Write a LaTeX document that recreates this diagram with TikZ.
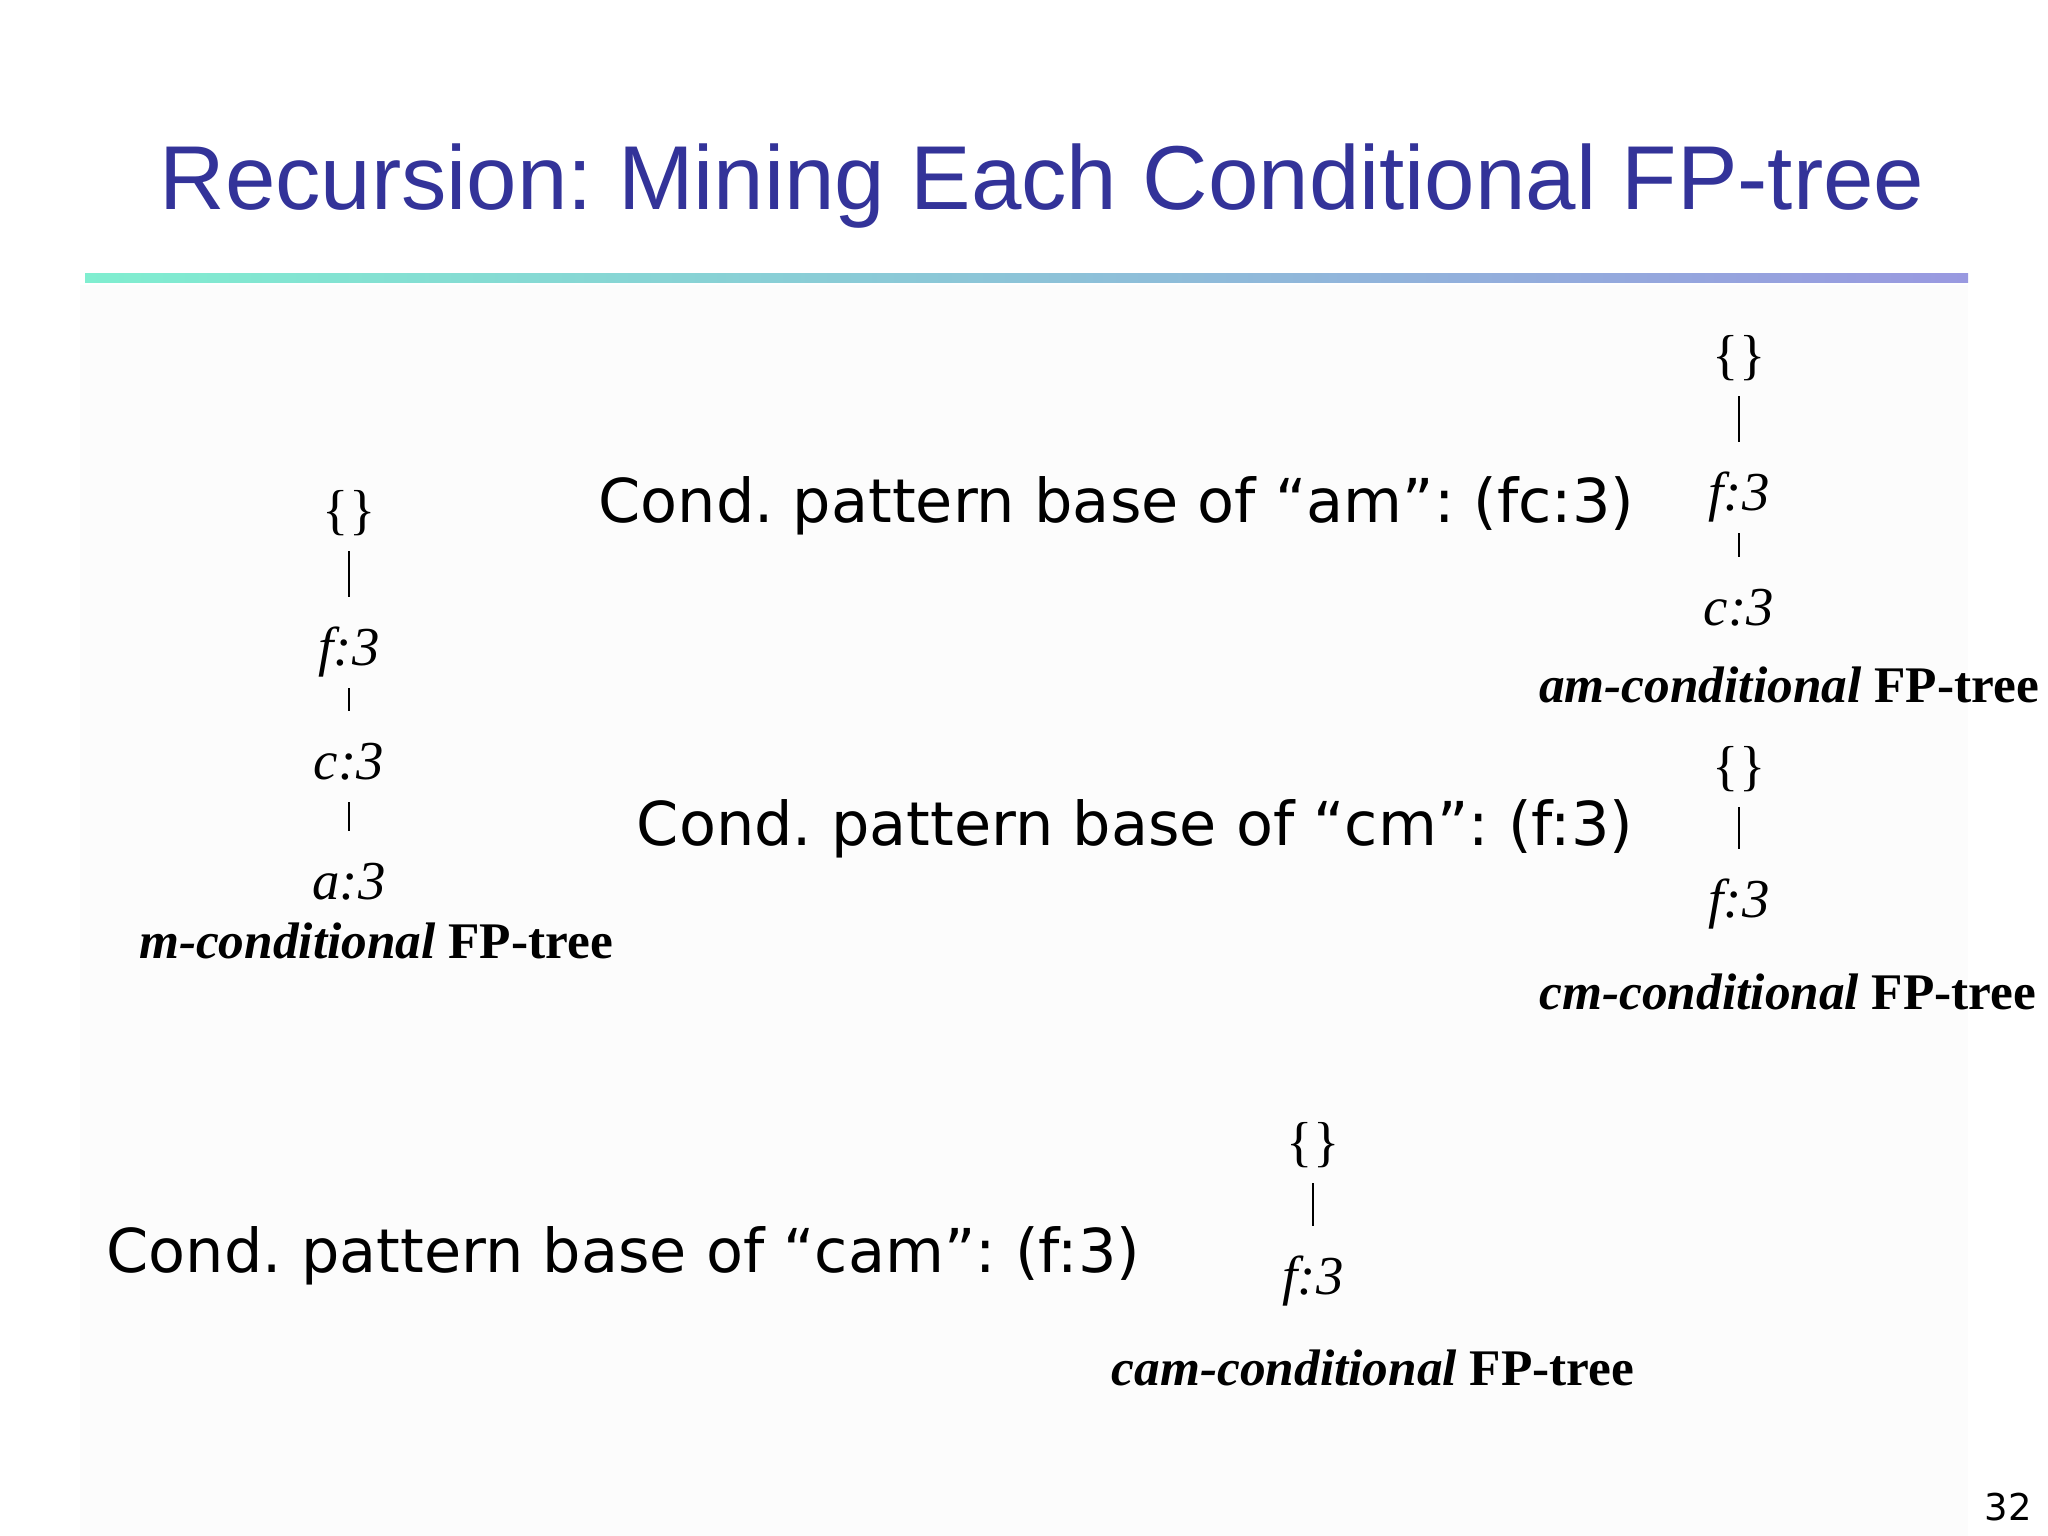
\documentclass[tikz,border=0pt]{standalone}
\usepackage{fontspec}
\setmainfont{Liberation Serif}
\newfontfamily\titlefont{Liberation Sans}
\newfontfamily\bodyfont{DejaVu Sans}
\frenchspacing

\definecolor{titleblue}{RGB}{51,51,153}
\definecolor{barmint}{RGB}{128,238,208}
\definecolor{barlilac}{RGB}{153,153,224}
\definecolor{slidegray}{RGB}{252,252,252}

\begin{document}
\begin{tikzpicture}[
        x=0.01cm,y=-0.01cm,
        slidetitle/.style={font=\titlefont\fontsize{25.8}{30}\selectfont,text=titleblue,inner sep=0pt},
        cond/.style={font=\bodyfont\fontsize{17.2}{20}\selectfont,inner sep=0pt},
        item/.style={font=\fontsize{15.6}{18}\selectfont\itshape,inner sep=0pt,text height=10.9pt,text depth=3.1pt,anchor=base},
        treelabel/.style={font=\fontsize{14.6}{17}\selectfont\bfseries,inner sep=0pt,anchor=base},
        link/.style={line width=0.5pt,shorten <=1.15mm,shorten >=2.85mm}
    ]

\useasboundingbox (0,0) rectangle (2048,1536);
\fill[white] (0,0) rectangle (2048,1536);
\fill[slidegray] (80,285) rectangle (1968,1536);

\node[slidetitle,anchor=base] (title) at (1042,209) {Recursion: Mining Each Conditional FP-tree};
\shade[left color=barmint,right color=barlilac] (85,273) rectangle (1968,282);

% m-conditional tree
\node[item] (mroot) at (349,528) {\upshape\{\}};
\node[item] (mf) at (349,665) {f:3};
\node[item] (mc) at (349,779) {c:3};
\node[item] (ma) at (349,899) {a:3};
\node[treelabel] (mlabel) at (376,958) {\textit{m-conditional} FP-tree};

% am
\node[cond,anchor=base east] (amtext) at (1635,522) {Cond. pattern base of “am”: (fc:3)};
\node[item] (amroot) at (1739,373) {\upshape\{\}};
\node[item] (amf) at (1739,510) {f:3};
\node[item] (amc) at (1739,625) {c:3};
\node[treelabel] (amlabel) at (1789,702) {\textit{am-conditional} FP-tree};

% cm
\node[cond,anchor=base east] (cmtext) at (1634,845) {Cond. pattern base of “cm”: (f:3)};
\node[item] (cmroot) at (1739,784) {\upshape\{\}};
\node[item] (cmf) at (1739,917) {f:3};
\node[treelabel] (cmlabel) at (1788,1009) {\textit{cm-conditional} FP-tree};

% cam
\node[cond,anchor=base west] (camtext) at (106,1272) {Cond. pattern base of “cam”: (f:3)};
\node[item] (camroot) at (1313,1160) {\upshape\{\}};
\node[item] (camf) at (1313,1294) {f:3};
\node[treelabel] (camlabel) at (1373,1385) {\textit{cam-conditional} FP-tree};

\foreach \a/\b in {mroot/mf,mf/mc,mc/ma,amroot/amf,amf/amc,cmroot/cmf,camroot/camf}
    \draw[link] (\a) -- (\b);

\node[font=\bodyfont\fontsize{10.5}{12}\selectfont,inner sep=0pt] (pageno) at (2008,1507) {32};

\end{tikzpicture}
\end{document}
